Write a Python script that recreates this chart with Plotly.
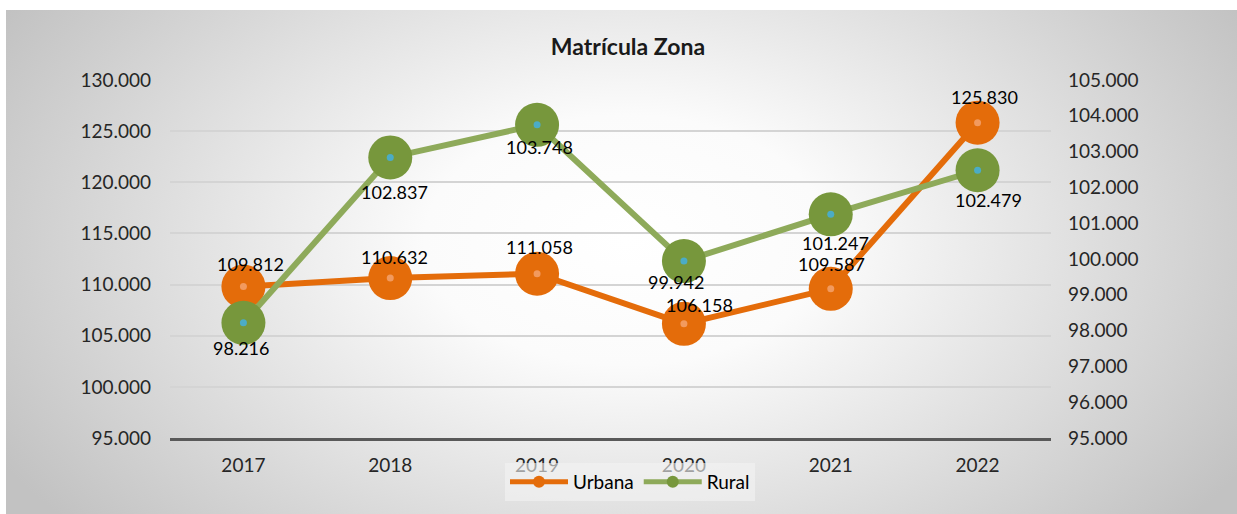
import base64
import plotly.graph_objects as go

# ---------------- data ----------------
years = ["2017", "2018", "2019", "2020", "2021", "2022"]
urbana = [109812, 110632, 111058, 106158, 109587, 125830]
rural = [98216, 102837, 103748, 99942, 101247, 102479]

left_ticks = [95000, 100000, 105000, 110000, 115000, 120000, 125000, 130000]
right_ticks = [95000, 96000, 97000, 98000, 99000, 100000, 101000, 102000, 103000, 104000, 105000]

# ---------------- style ----------------
W, H = 1237, 514
FONT = "Lato"
ORANGE = "#E46C0A"
ORANGE_DOT = "#F29A5E"
GREEN_LINE = "#8EAA5A"
GREEN_MK = "#77973C"
GREEN_DOT = "#4BACC6"
TXT = "#262626"

# label offsets (pixels, screen: dx right, dy down) - styling only
urb_lbl = [(7, -22), (4, -21), (2, -27), (16, -19), (1, -25), (7, -26)]
rur_lbl = [(-2, 25), (4, 35), (2, 22), (-8, 21), (5, 29), (11, 30)]

def fmt(v):
    return f"{v:,}".replace(",", ".")

# background radial gradient as SVG
bw, bh = 1231, 504
svg = f'''<svg xmlns="http://www.w3.org/2000/svg" width="{bw}" height="{bh}" viewBox="0 0 {bw} {bh}" preserveAspectRatio="none">
<defs><radialGradient id="g" gradientUnits="userSpaceOnUse" cx="620" cy="230" r="720" gradientTransform="translate(620 230) scale(1 0.62) translate(-620 -230)">
<stop offset="0" stop-color="#FFFFFF"/><stop offset="0.28" stop-color="#FBFBFB"/><stop offset="1" stop-color="#C2C2C2"/>
</radialGradient></defs>
<rect x="0" y="0" width="{bw}" height="{bh}" fill="url(#g)"/></svg>'''
svg_uri = "data:image/svg+xml;base64," + base64.b64encode(svg.encode()).decode()

fig = go.Figure()

# Urbana (left axis)
fig.add_trace(go.Scatter(
    x=years, y=urbana, name="Urbana", mode="lines+markers",
    line=dict(color=ORANGE, width=6),
    marker=dict(color=ORANGE, size=44, line=dict(width=0)),
    yaxis="y", hoverinfo="skip"))
fig.add_trace(go.Scatter(
    x=years, y=urbana, mode="markers", showlegend=False,
    marker=dict(color=ORANGE_DOT, size=7), yaxis="y", hoverinfo="skip"))

# Rural (right axis)
fig.add_trace(go.Scatter(
    x=years, y=rural, name="Rural", mode="lines+markers",
    line=dict(color=GREEN_LINE, width=6),
    marker=dict(color=GREEN_MK, size=44, line=dict(width=0)),
    yaxis="y2", hoverinfo="skip"))
fig.add_trace(go.Scatter(
    x=years, y=rural, mode="markers", showlegend=False,
    marker=dict(color=GREEN_DOT, size=7), yaxis="y2", hoverinfo="skip"))

annotations = []
for i, v in enumerate(urbana):
    dx, dy = urb_lbl[i]
    annotations.append(dict(x=i, y=v, xref="x", yref="y", text=fmt(v), showarrow=False,
                            xshift=dx, yshift=-dy, font=dict(family=FONT, size=18, color="#000000")))
for i, v in enumerate(rural):
    dx, dy = rur_lbl[i]
    annotations.append(dict(x=i, y=v, xref="x", yref="y2", text=fmt(v), showarrow=False,
                            xshift=dx, yshift=-dy, font=dict(family=FONT, size=18, color="#000000")))

x0, x1 = 170 / W, 1051 / W
y0, y1 = 1 - 438 / H, 1 - 80 / H

fig.update_layout(
    width=W, height=H, autosize=False,
    margin=dict(l=0, r=0, t=0, b=0, pad=0, autoexpand=False),
    paper_bgcolor="#FFFFFF", plot_bgcolor="rgba(0,0,0,0)",
    separators=",.",
    font=dict(family=FONT, size=19, color=TXT),
    title=dict(text="<b>Matrícula Zona</b>", x=628 / W, xanchor="center",
               y=1 - 47 / H, yanchor="middle", font=dict(family=FONT, size=23, color="#1A1A1A")),
    xaxis=dict(domain=[x0, x1], type="category", range=[-0.5, 5.5],
               showline=True, linecolor="#595959", linewidth=3, showgrid=False,
               ticks="", ticklabelstandoff=8, tickfont=dict(family=FONT, size=19, color=TXT),
               zeroline=False, fixedrange=True, automargin=False),
    yaxis=dict(domain=[y0, y1], range=[95000, 130000], tickvals=left_ticks,
               tickformat=",", showgrid=True, gridcolor="#D4D4D4", gridwidth=1.5,
               showline=False, zeroline=False, ticks="", ticklabelstandoff=18,
               tickfont=dict(family=FONT, size=19, color=TXT), fixedrange=True, automargin=False),
    yaxis2=dict(overlaying="y", side="right", range=[95000, 105000], tickvals=right_ticks,
                tickformat=",", showgrid=False, showline=False, zeroline=False, ticks="",
                ticklabelstandoff=16, tickfont=dict(family=FONT, size=19, color=TXT),
                fixedrange=True, automargin=False),
    legend=dict(orientation="h", x=630 / W, xanchor="center", y=1 - 482 / H, yanchor="middle",
                bgcolor="rgba(244,244,244,0.6)", borderwidth=0,
                font=dict(family=FONT, size=19, color="#000000"),
                itemsizing="constant", itemwidth=58, traceorder="normal"),
    annotations=annotations,
    images=[dict(source=svg_uri, xref="paper", yref="paper", x=6 / W, y=1 - 10 / H,
                 sizex=bw / W, sizey=bh / H, xanchor="left", yanchor="top",
                 sizing="stretch", layer="below")],
    showlegend=True,
)

fig.write_html("out.html", post_script="document.body.style.margin='0';",
               config={"displayModeBar": False})
